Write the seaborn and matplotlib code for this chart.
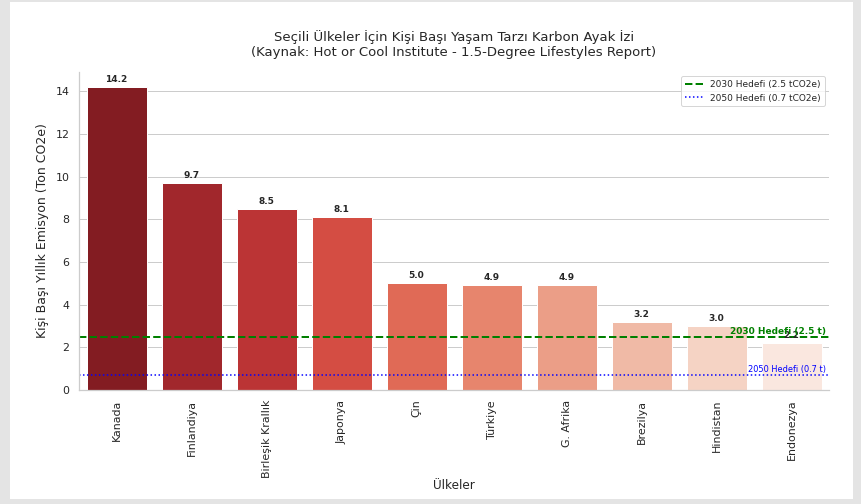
import matplotlib
matplotlib.use("Agg")
import matplotlib.pyplot as plt
import seaborn as sns
import pandas as pd
from matplotlib.patches import Rectangle

countries = ["Kanada", "Finlandiya", "Birleşik Krallık", "Japonya", "Çin",
             "Türkiye", "G. Afrika", "Brezilya", "Hindistan", "Endonezya"]
emissions = [14.2, 9.7, 8.5, 8.1, 5.0, 4.9, 4.9, 3.2, 3.0, 2.2]
target_2030 = 2.5
target_2050 = 0.7

df = pd.DataFrame({"Ülke": countries, "Emisyon": emissions})

sns.set_theme(style="whitegrid")
plt.rcParams['font.family'] = ['DejaVu Sans']

fig = plt.figure(figsize=(861/72, 504/72), dpi=72)
fig.patch.set_facecolor("#e4e4e4")
fig.patches.append(Rectangle((10/861, 5/504), (853-10)/861, (502-5)/504,
                             transform=fig.transFigure, facecolor="white",
                             edgecolor="none", zorder=-10))
ax = fig.add_axes([79/861, 1-390/504, (829-79)/861, (390-72)/504])

sns.barplot(data=df, x="Ülke", y="Emisyon", hue="Ülke", palette="Reds_r",
            legend=False, ax=ax)

for c in ax.containers:
    ax.bar_label(c, fmt="%.1f", padding=3, fontsize=9, fontweight="bold")

ax.axhline(target_2030, color="green", linestyle="--", linewidth=2,
           label="2030 Hedefi (2.5 tCO2e)")
ax.axhline(target_2050, color="blue", linestyle=":", linewidth=1.5,
           label="2050 Hedefi (0.7 tCO2e)")
ax.text(9.46, target_2030 + 0.05, "2030 Hedefi (2.5 t)", color="green",
        fontsize=9, fontweight="bold", ha="right", va="bottom")
ax.text(9.46, target_2050 + 0.05, "2050 Hedefi (0.7 t)", color="blue",
        fontsize=8.3, ha="right", va="bottom")

ax.set_title("Seçili Ülkeler İçin Kişi Başı Yaşam Tarzı Karbon Ayak İzi\n"
             "(Kaynak: Hot or Cool Institute - 1.5-Degree Lifestyles Report)",
             fontsize=13.3, pad=16, linespacing=1.15)
ax.set_xlabel("Ülkeler", fontsize=12, labelpad=1)
ax.set_ylabel("Kişi Başı Yıllık Emisyon (Ton CO2e)", fontsize=12.5, labelpad=6)
ax.tick_params(axis="x", labelrotation=90, labelsize=11)
ax.tick_params(axis="y", labelsize=11)
ax.legend(loc="upper right", fontsize=9)
sns.despine(ax=ax)

fig.savefig("out.png", dpi=72)
